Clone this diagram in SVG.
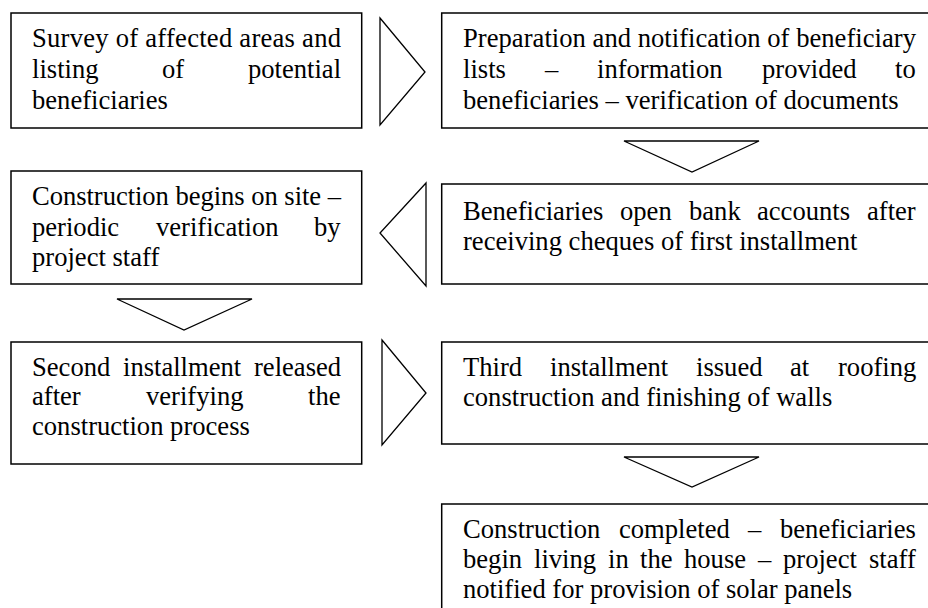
<svg xmlns="http://www.w3.org/2000/svg" width="928" height="608" viewBox="0 0 928 608">
<style>
.box{fill:#fff;stroke:#000;stroke-width:1.5}
.tri{fill:#fff;stroke:#000;stroke-width:1.3;stroke-linejoin:miter}
.t{font-family:"Liberation Serif","Times New Roman",serif;font-size:26.6px;fill:#000}
</style>
<rect width="928" height="608" fill="#fff"/>
<g id="connectors">
<polygon class="tri" points="380,18 425,72 380,125"/>
<polygon class="tri" points="624,141 759,141 692,172"/>
<polygon class="tri" points="426,183 380,233 426,286"/>
<polygon class="tri" points="117,299 252,299 184,330"/>
<polygon class="tri" points="382,340 426,393 382,445"/>
<polygon class="tri" points="624,457 759,457 692,487"/>
</g>
<g id="n1" class="t">
<rect class="box" x="11" y="13" width="350.7" height="115"/>
<text x="32" y="47" textLength="309" lengthAdjust="spacing">Survey of affected areas and</text>
<text y="78"><tspan x="32">listing</tspan><tspan x="162">of</tspan><tspan x="248">potential</tspan></text>
<text x="32" y="109">beneficiaries</text>
</g>
<g id="n2" class="t">
<rect class="box" x="441.7" y="13" width="500" height="115"/>
<text x="463" y="47" textLength="453" lengthAdjust="spacing">Preparation and notification of beneficiary</text>
<text y="78"><tspan x="463">lists</tspan><tspan x="545">–</tspan><tspan x="597">information</tspan><tspan x="762">provided</tspan><tspan x="895">to</tspan></text>
<text x="463" y="109">beneficiaries – verification of documents</text>
</g>
<g id="n3" class="t">
<rect class="box" x="441.7" y="184" width="500" height="100"/>
<text y="220"><tspan x="463">Beneficiaries</tspan><tspan x="620">open</tspan><tspan x="689">bank</tspan><tspan x="757">accounts</tspan><tspan x="867">after</tspan></text>
<text x="463" y="250">receiving cheques of first installment</text>
</g>
<g id="n4" class="t">
<rect class="box" x="11" y="171" width="350.7" height="113"/>
<text x="32" y="205" textLength="309" lengthAdjust="spacing">Construction begins on site –</text>
<text y="236"><tspan x="32">periodic</tspan><tspan x="156">verification</tspan><tspan x="314">by</tspan></text>
<text x="32" y="266">project staff</text>
</g>
<g id="n5" class="t">
<rect class="box" x="11" y="342" width="350.7" height="122"/>
<text y="376"><tspan x="32">Second</tspan><tspan x="123">installment</tspan><tspan x="254">released</tspan></text>
<text y="405"><tspan x="32">after</tspan><tspan x="146">verifying</tspan><tspan x="308">the</tspan></text>
<text x="32" y="435">construction process</text>
</g>
<g id="n6" class="t">
<rect class="box" x="441.7" y="342" width="500" height="102"/>
<text y="376"><tspan x="463">Third</tspan><tspan x="550">installment</tspan><tspan x="696">issued</tspan><tspan x="790">at</tspan><tspan x="838">roofing</tspan></text>
<text x="463" y="406">construction and finishing of walls</text>
</g>
<g id="n7" class="t">
<rect class="box" x="441.7" y="504" width="500" height="120"/>
<text y="538"><tspan x="463">Construction</tspan><tspan x="619">completed</tspan><tspan x="748">–</tspan><tspan x="780">beneficiaries</tspan></text>
<text y="568"><tspan x="463">begin</tspan><tspan x="534">living</tspan><tspan x="608">in</tspan><tspan x="640">the</tspan><tspan x="684">house</tspan><tspan x="758">–</tspan><tspan x="783">project</tspan><tspan x="869">staff</tspan></text>
<text x="463" y="598">notified for provision of solar panels</text>
</g>
</svg>
